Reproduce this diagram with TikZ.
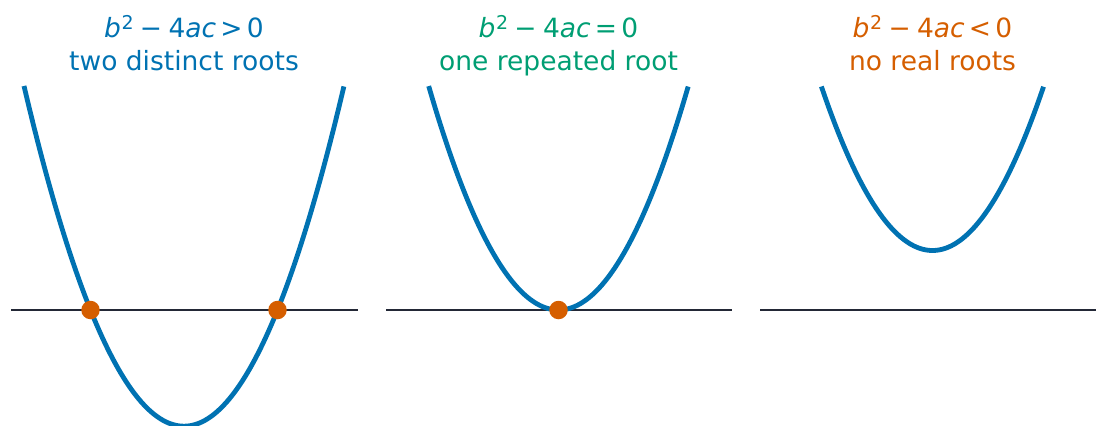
\documentclass[tikz,border=0pt]{standalone}
\usepackage{fontspec}
\setmainfont{DejaVu Sans}
\definecolor{cblue}{HTML}{0072B2}
\definecolor{cgreen}{HTML}{009E73}
\definecolor{corange}{HTML}{D55E00}
\definecolor{axisline}{HTML}{232836}
\newcommand{\tsize}{\fontsize{26.5}{32}\selectfont}
\newcommand{\supsize}{\fontsize{19}{20}\selectfont}
\newcommand{\sqd}{\textit{b}\kern0.5pt\raisebox{8pt}{\supsize 2}}
\newcommand{\binsp}{\hspace{0.24em}}
\newcommand{\relsp}{\hspace{0.16em}}
\newcommand{\disc}[1]{\sqd\binsp−\binsp4\textit{ac}\relsp#1\relsp0}
\begin{document}
\begin{tikzpicture}[x=1pt,y=-1pt,
  titletext/.style={font=\tsize, inner sep=0pt, anchor=base},
  baseline/.style={draw=axisline, line width=2.5pt},
  parab/.style={draw=cblue, line width=4.8pt},
  rootdot/.style={circle, fill=corange, minimum size=18.5pt, inner sep=0pt}]
\useasboundingbox (0,0) rectangle (1096,426);
\begin{scope}
\clip (0,0) rectangle (1096,426);
% axis lines
\coordinate (l1a) at (11,310);  \coordinate (l1b) at (357.5,310);
\coordinate (l2a) at (386,310); \coordinate (l2b) at (731.5,310);
\coordinate (l3a) at (760,310); \coordinate (l3b) at (1106,310);
\draw[baseline] (l1a) -- (l1b);
\draw[baseline] (l2a) -- (l2b);
\draw[baseline] (l3a) -- (l3b);
% parabolas (u in hundreds of px)
\draw[parab] plot[domain=-1.6:1.6, samples=121, smooth] ({184+100*\x},{310-132.9*(\x*\x-0.8742)});
\draw[parab] plot[domain=-1.298:1.298, samples=121, smooth] ({558.5+100*\x},{310-132.9*(\x*\x)});
\draw[parab] plot[domain=-1.111:1.111, samples=121, smooth] ({932.5+100*\x},{250.5-132.9*(\x*\x)});
\end{scope}
% roots
\node[rootdot] (r1) at (90.5,310) {};
\node[rootdot] (r2) at (277.5,310) {};
\node[rootdot] (r3) at (558.5,310) {};
% titles
\node[titletext, text=cblue] (t1a) at (184,37.5) {\disc{>}};
\node[titletext, text=cblue] (t1b) at (184,70) {two distinct roots};
\node[titletext, text=cgreen] (t2a) at (558.5,37.5) {\disc{=}};
\node[titletext, text=cgreen] (t2b) at (558.5,70) {one repeated root};
\node[titletext, text=corange] (t3a) at (932.5,37.5) {\disc{<}};
\node[titletext, text=corange] (t3b) at (932.5,70) {no real roots};
\end{tikzpicture}
\end{document}
